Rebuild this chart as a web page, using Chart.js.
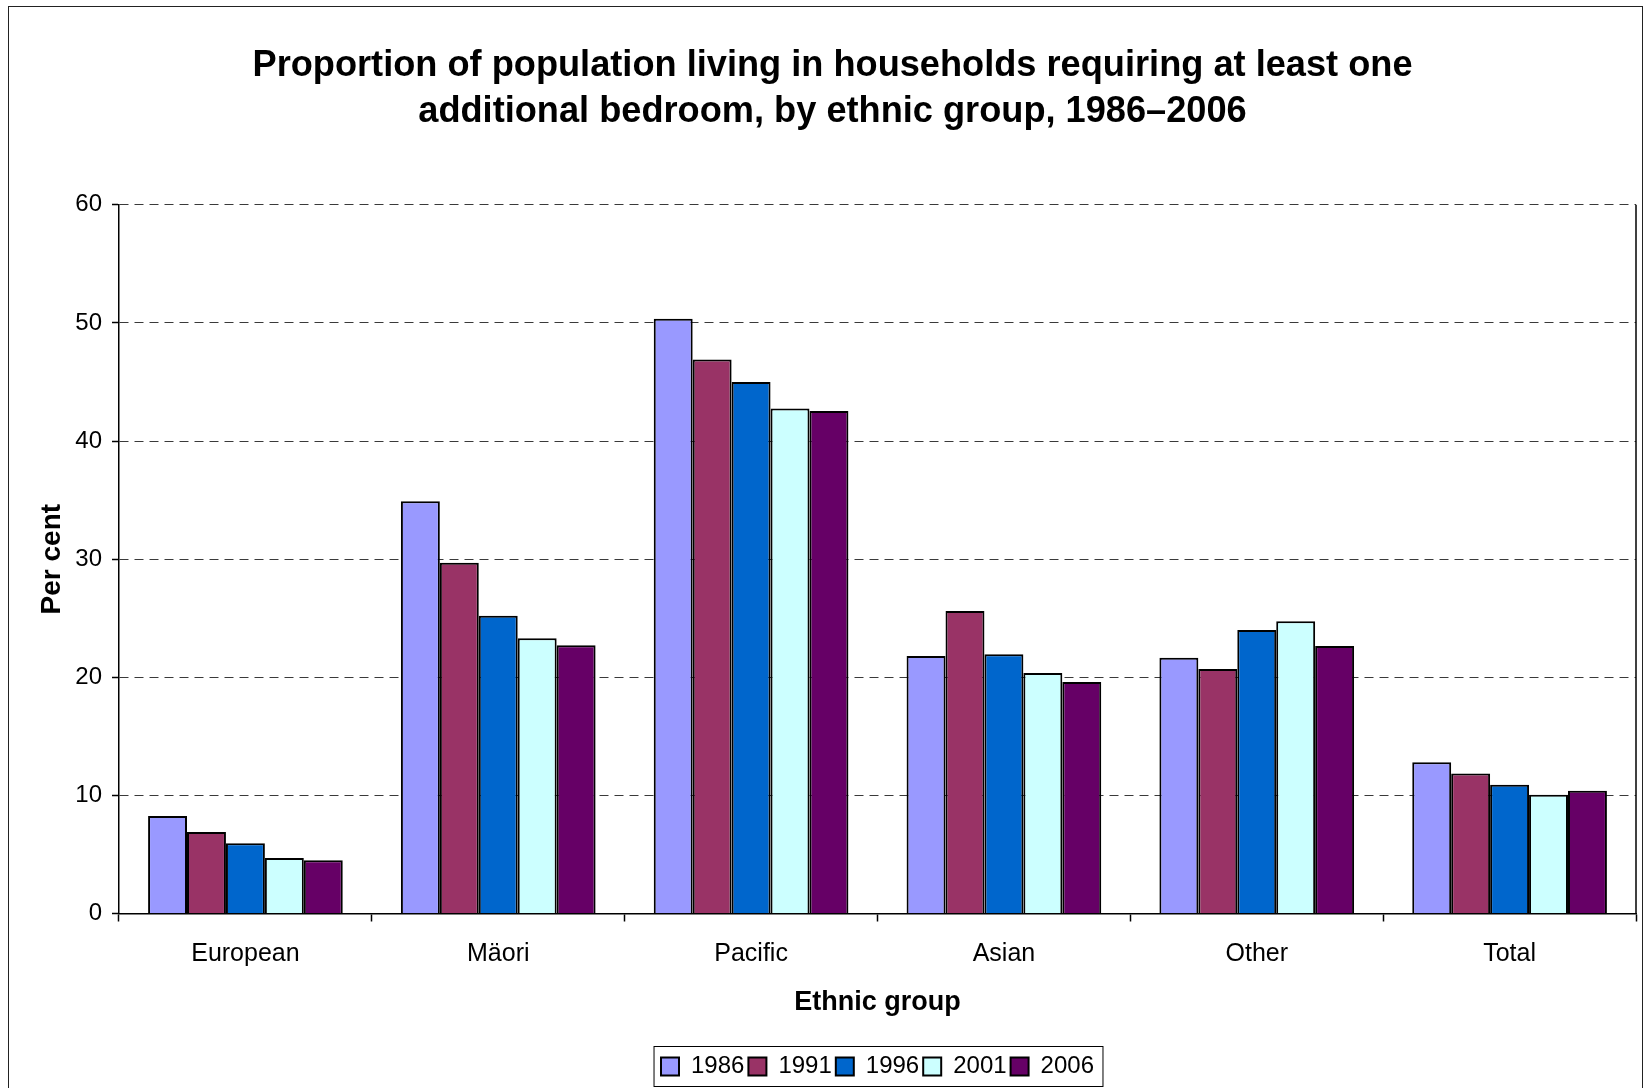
<!DOCTYPE html>
<html>
<head>
<meta charset="utf-8">
<script src="https://cdn.jsdelivr.net/npm/chart.js@4.4.0/dist/chart.umd.min.js"></script>
<style>
  html, body { margin: 0; padding: 0; background: #fff; overflow: hidden; }
  #frame { position: absolute; left: 8px; top: 6px; width: 1633px; height: 1120px; border: 1.5px solid #222; }
  #chart { position: absolute; left: 0; top: 0; }
</style>
</head>
<body>
<div id="frame"></div>
<canvas id="chart" width="1646" height="1100"></canvas>
<script>
// --- DATA ---
const categories = ['European', 'Mäori', 'Pacific', 'Asian', 'Other', 'Total'];
const years = ['1986', '1991', '1996', '2001', '2006'];
const values1986 = [8.25, 34.9, 50.35, 21.8, 21.65, 12.8];
const values1991 = [6.9, 29.7, 46.9, 25.6, 20.7, 11.85];
const values1996 = [5.95, 25.2, 45.0, 21.95, 24.0, 10.9];
const values2001 = [4.7, 23.3, 42.75, 20.35, 24.75, 10.05];
const values2006 = [4.5, 22.7, 42.55, 19.6, 22.65, 10.4];
const colours = ['#9999FF', '#993366', '#0066CC', '#CCFFFF', '#660066'];
const yMin = 0, yMax = 60, yStep = 10;

const titleLines = ['Proportion of population living in households requiring at least one',
                    'additional bedroom, by ethnic group, 1986–2006'];

Chart.defaults.font.family = "'Liberation Sans', Arial, sans-serif";
Chart.defaults.color = '#000';

// solid right edge of the plot area + centre legend on the plot, title a bit right
const plotFrame = {
    id: 'plotFrame',
    afterLayout(chart) {
        const a = chart.chartArea;
        const lg = chart.legend;
        if (lg) {
            const shift = (a.left + a.right) / 2 - (lg.left + lg.right) / 2;
            lg.left += shift;
            lg.right += shift;
        }
        const tb = chart.titleBlock;
        if (tb) {
            tb.left += 10;
            tb.right += 10;
        }
    },
    afterDraw(chart) {
        const { ctx, chartArea: a } = chart;
        ctx.save();
        ctx.strokeStyle = '#000';
        ctx.lineWidth = 1.5;
        ctx.beginPath();
        ctx.moveTo(a.right, a.top);
        ctx.lineTo(a.right, a.bottom);
        ctx.stroke();
        ctx.restore();
    }
};

// box around the legend, like Excel
const legendFrame = {
    id: 'legendFrame',
    afterDraw(chart) {
        const boxes = chart.legend.legendHitBoxes;
        if (!boxes || !boxes.length) return;
        let l = Infinity, r = -Infinity, t = Infinity, b = -Infinity;
        boxes.forEach(h => {
            l = Math.min(l, h.left); r = Math.max(r, h.left + h.width);
            t = Math.min(t, h.top); b = Math.max(b, h.top + h.height);
        });
        const ctx = chart.ctx;
        ctx.save();
        ctx.strokeStyle = '#000';
        ctx.lineWidth = 1;
        ctx.strokeRect(l - 7, t - 8, (r - l) + 16, (b - t) + 16);
        ctx.restore();
    }
};

const seriesValues = [values1986, values1991, values1996, values2001, values2006];
const datasets = years.map((y, i) => ({
    label: y,
    data: seriesValues[i],
    backgroundColor: colours[i],
    borderColor: '#000',
    borderWidth: 2,
    categoryPercentage: 0.77,
    barPercentage: 1.0
}));

new Chart(document.getElementById('chart'), {
    type: 'bar',
    data: { labels: categories, datasets: datasets },
    plugins: [plotFrame, legendFrame],
    options: {
        responsive: false,
        animation: false,
        devicePixelRatio: 1,
        layout: { padding: { left: 9, right: 10, top: 0, bottom: 11.5 } },
        plugins: {
            tooltip: { enabled: false },
            title: {
                display: true,
                text: titleLines,
                font: { size: 36.2, weight: 'bold', lineHeight: 1.28 },
                color: '#000',
                padding: { top: 42.5, bottom: 69.6 }
            },
            legend: {
                position: 'bottom',
                labels: {
                    boxWidth: 18,
                    boxHeight: 18,
                    padding: 4,
                    font: { size: 24 },
                    color: '#000'
                }
            }
        },
        scales: {
            x: {
                afterFit: s => { s.height = 137; },
                grid: { offset: true, drawOnChartArea: false, drawTicks: true, tickLength: 8, tickColor: '#000', color: '#000', tickWidth: 1.5 },
                border: { display: true, color: '#000', width: 1.5 },
                ticks: { font: { size: 25 }, color: '#000', padding: 18 },
                title: { display: true, text: 'Ethnic group', font: { size: 27, weight: 'bold' }, color: '#000', padding: { top: 0, bottom: 32 } }
            },
            y: {
                min: yMin,
                max: yMax,
                afterFit: s => { s.width = 110; },
                grid: { color: '#3a3a3a', lineWidth: 1, drawTicks: true, tickLength: 7, tickColor: '#000', tickWidth: 1.5, tickBorderDash: [] },
                border: { display: true, color: '#000', width: 1.5, dash: [9, 6] },
                ticks: { stepSize: yStep, font: { size: 24 }, color: '#000', padding: 10 },
                title: { display: true, text: 'Per cent', font: { size: 28, weight: 'bold' }, color: '#000', padding: { top: 26, bottom: 0 } }
            }
        }
    }
});
</script>
</body>
</html>
